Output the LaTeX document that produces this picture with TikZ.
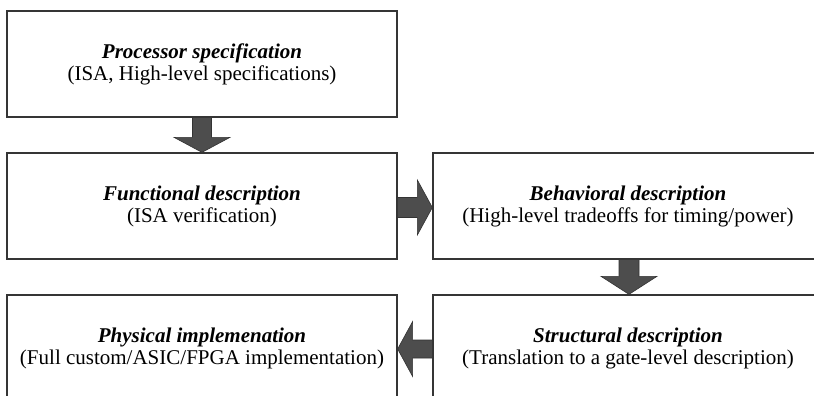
\documentclass[tikz,border=0pt]{standalone}
\usepackage{fontspec}
\setmainfont{Liberation Serif}
\usetikzlibrary{calc}

\definecolor{boxline}{HTML}{353535}
\definecolor{arrfill}{HTML}{4D4D4D}
\definecolor{arrline}{HTML}{333333}

\tikzset{
  stage/.style={draw=boxline, line width=1.3pt, minimum width=390pt,
    minimum height=106pt, inner sep=0pt, align=center, text=black,
    font=\fontsize{21}{22}\selectfont},
  blockarrow/.style={fill=arrfill, draw=arrline, line width=0.6pt, line join=miter}
}

% Fat block arrow: #1 start, #2 tip, #3 half shaft width, #4 half head width, #5 head length
\newcommand\blockarrow[5]{%
  \coordinate (ba-base) at ($(#2)!#5!(#1)$);
  \filldraw[blockarrow]
    ($(#1)!#3!90:(#2)$) -- ($(ba-base)!#3!-90:(#1)$) -- ($(ba-base)!#4!-90:(#1)$)
    -- (#2) -- ($(ba-base)!#4!90:(#1)$) -- ($(ba-base)!#3!90:(#1)$)
    -- ($(#1)!#3!-90:(#2)$) -- cycle;}

\newcommand\stagetitle[1]{\textbf{\textit{#1}}}

\begin{document}
\begin{tikzpicture}[x=1pt,y=-1pt]
  \useasboundingbox (0,0) rectangle (814,396);
  \clip (0,0) rectangle (814,396);

  \node[stage] (spec)  at (202,64)  {\stagetitle{Processor specification}\\(ISA, High-level specifications)};
  \node[stage] (func)  at (202,206) {\stagetitle{Functional description}\\(ISA verification)};
  \node[stage] (behav) at (628,206) {\stagetitle{Behavioral description}\\(High-level tradeoffs for timing/power)};
  \node[stage] (phys)  at (202,348) {\stagetitle{Physical implemenation}\\(Full custom/ASIC/FPGA implementation)};
  \node[stage] (struct) at (628,348) {\stagetitle{Structural description}\\(Translation to a gate-level description)};

  \blockarrow{spec.south}{func.north}{9.5pt}{28pt}{15pt}
  \blockarrow{[yshift=-1.5pt]func.east}{[yshift=-1.5pt]behav.west}{10pt}{27.5pt}{15pt}
  \blockarrow{[xshift=1pt]behav.south}{[xshift=1pt]struct.north}{10pt}{28pt}{18pt}
  \blockarrow{[yshift=-1pt]struct.west}{[yshift=-1pt]phys.east}{9pt}{27.5pt}{15pt}
\end{tikzpicture}
\end{document}
